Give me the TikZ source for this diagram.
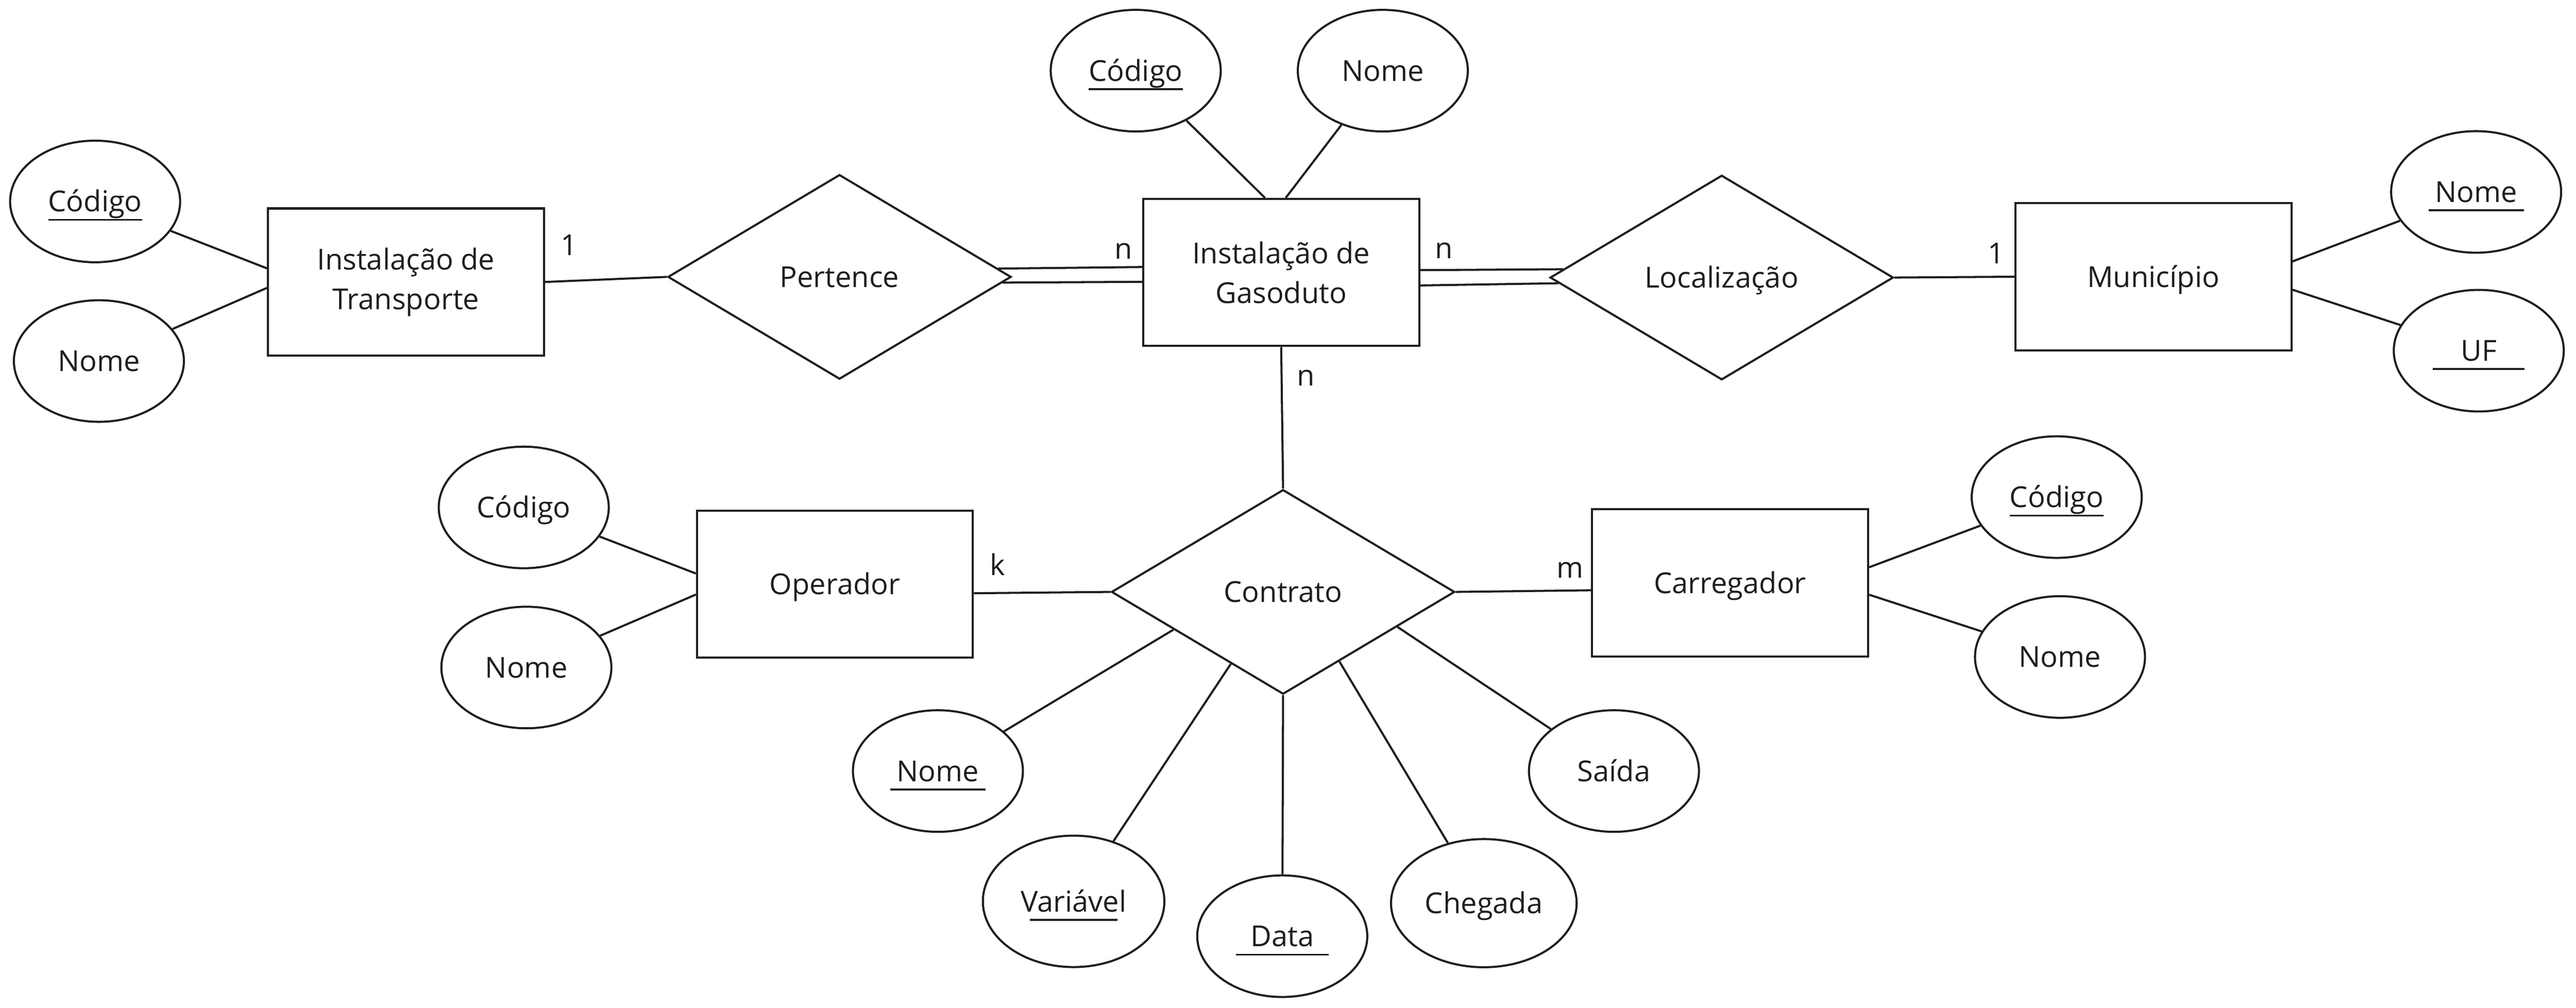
\documentclass[tikz,border=0pt]{standalone}
\usepackage{fontspec}
\setmainfont{Open Sans}
\usetikzlibrary{calc,shapes.geometric}
\definecolor{traco}{RGB}{30,30,30}

\begin{document}
\begin{tikzpicture}[x=0.02cm, y=-0.02cm, line width=0.72pt, color=traco,
  font=\fontsize{10pt}{13.8pt}\selectfont,
  entidade/.style={draw, rectangle, minimum width=3.36cm, minimum height=1.79cm,
    inner sep=0pt, align=center},
  entidade1/.style={entidade, text height=7.15pt, text depth=0pt},
  rel/.style={draw, diamond, minimum width=4.18cm, minimum height=2.49cm,
    inner sep=0pt, text height=7.15pt, text depth=0pt},
  atrib/.style={draw, ellipse, minimum width=2.07cm, minimum height=1.48cm,
    inner sep=0pt, text height=7.15pt, text depth=0pt},
  card/.style={inner sep=0pt}]

% underlined key attribute; optional argument widens the rule on both sides
\newcommand\chave[2][0cm]{%
  \setbox0\hbox{#2}%
  \rlap{\kern-#1\rule[-1.1mm]{\dimexpr\wd0+#1+#1\relax}{0.65pt}}\box0}

\fill[white] (0,0) rectangle (1568,613.4);

% entities and relationships
\node[entidade] (IT) at (247.1,171.6) {Instalação de\\Transporte};
\node[entidade] (IG) at (779.85,165.8) {Instalação de\\Gasoduto};
\node[entidade1] (Mun) at (1310.75,168.4) {Município};
\node[entidade1] (Op) at (508.2,355.5) {Operador};
\node[entidade1] (Car) at (1053.1,354.7) {Carregador};
\node[rel] (Per) at (511,168.5) {Pertence};
\node[rel] (Loc) at (1048,168.9) {Localização};
\node[rel] (Con) at (781,360.2) {Contrato};

% attributes
\node[atrib] (ITcod) at (57.9,122.6) {\chave{Código}};
\node[atrib] (ITnom) at (60.2,219.7) {Nome};
\node[atrib] (IGcod) at (691.3,43) {\chave{Código}};
\node[atrib] (IGnom) at (841.7,43) {Nome};
\node[atrib] (Munnom) at (1507.2,116.8) {\chave[0.08cm]{Nome}};
\node[atrib] (Munuf) at (1508.8,213.4) {\chave[0.34cm]{UF}};
\node[atrib] (Opcod) at (318.8,308.8) {Código};
\node[atrib] (Opnom) at (320.4,406.2) {Nome};
\node[atrib] (Carcod) at (1251.9,302.5) {\chave{Código}};
\node[atrib] (Carnom) at (1253.9,399.8) {Nome};
\node[atrib] (Connom) at (570.9,469.2) {\chave[0.08cm]{Nome}};
\node[atrib, minimum width=2.21cm, minimum height=1.6cm] (Convar) at (653.5,548.5) {\chave[-0.11cm]{Variável}};
\node[atrib] (Condat) at (780.5,569.7) {\chave[0.18cm]{Data}};
\node[atrib, minimum width=2.26cm, minimum height=1.56cm] (Conche) at (903.2,549.6) {Chegada};
\node[atrib] (Consai) at (982.4,469.2) {Saída};

% cardinalities
\node[card] (c1) at (346.3,149) {1};
\node[card] (c2) at (683.7,152.7) {n};
\node[card] (c3) at (879,152.4) {n};
\node[card] (c4) at (795,230) {n};
\node[card] (c5) at (1215,154) {1};
\node[card] (c6) at (607.2,343.6) {k};
\node[card] (c7) at (955.8,346.9) {m};

% links
\draw (ITcod) -- ($(IT.west)+(0,-8.3)$);
\draw (ITnom) -- ($(IT.west)+(0,3.6)$);
\draw (IT.east) -- (Per.west);
\draw (Per.3.2) -- ($(IG.west)+(0,-3.3)$);
\draw (Per.-2.4) -- ($(IG.west)+(0,5.7)$);
\draw ($(IG.east)+(0,-1.4)$) -- (Loc.177);
\draw ($(IG.east)+(0,7.9)$) -- (Loc.182.6);
\draw (Loc.east) -- (Mun.west);
\draw ($(Mun.east)+(0,-9.3)$) -- (Munnom);
\draw ($(Mun.east)+(0,7.9)$) -- (Munuf);
\draw (IGcod) -- ($(IG.north)+(-9.85,0)$);
\draw (IGnom) -- ($(IG.north)+(2.75,0)$);
\draw (IG.south) -- (Con.north);
\draw (Opcod) -- ($(Op.west)+(0,-6.5)$);
\draw (Opnom) -- ($(Op.west)+(0,6.3)$);
\draw ($(Op.east)+(0,5.5)$) -- (Con.west);
\draw (Con.east) -- ($(Car.west)+(0,4.5)$);
\draw ($(Car.east)+(0,-9.5)$) -- (Carcod);
\draw ($(Car.east)+(0,7.2)$) -- (Carnom);
\foreach \a/\n in {199/Connom, 234.6/Convar, 309.4/Conche, 343.9/Consai}
  { \draw (Con.\a) -- (\n); }
\draw (Con.south) -- (Condat);
\end{tikzpicture}
\end{document}
